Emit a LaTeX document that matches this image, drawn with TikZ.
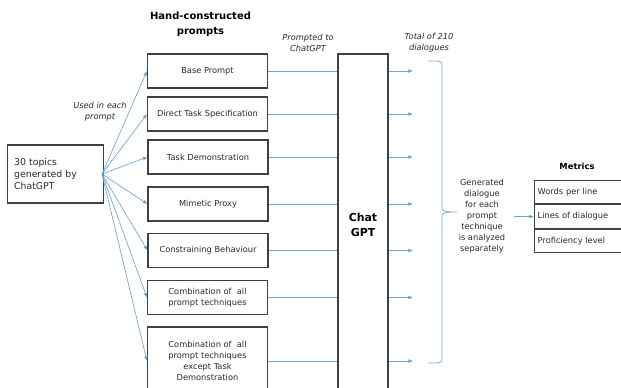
\documentclass[tikz,border=0pt]{standalone}
\usepackage{fontspec}
\setmainfont{DejaVu Sans}
\usetikzlibrary{arrows.meta}
\definecolor{lnblue}{RGB}{110,165,220}
\definecolor{tipblue}{RGB}{70,135,205}
\definecolor{bordergrey}{RGB}{64,64,64}
\definecolor{txtgrey}{RGB}{40,40,40}
\tikzset{
  small/.style={font=\fontsize{6.2}{8.25}\selectfont, text=txtgrey},
  promptbox/.style={draw=bordergrey, line width=0.8pt, minimum width=90pt, minimum height=25.5pt,
     inner sep=1pt, align=center, small},
  conn/.style={draw=lnblue, line width=0.5pt},
  arr/.style={conn, -{Latex[length=3.4pt,width=2.8pt,fill=tipblue]}},
  note/.style={font=\fontsize{6.2}{8.25}\selectfont\itshape, text=txtgrey, align=center, inner sep=0pt},
  metricrow/.style={draw=bordergrey, line width=0.8pt, anchor=north west, minimum height=17.5pt,
     text width=62pt, inner xsep=2.4pt, inner ysep=0pt, align=left, small},
}
\begin{document}
\begin{tikzpicture}[x=0.75pt,y=-0.75pt]
\useasboundingbox (0,0) rectangle (621,387);
\clip (0,0) rectangle (621,387);

% titles and notes
\node[font=\fontsize{7.5}{11.25}\selectfont\bfseries, text=black, align=center, inner sep=0pt] (title) at (200.5,24.5) {Hand-constructed\\prompts};
\node[note] (used) at (100,111.5) {Used in each\\prompt};
\node[note] (prompted) at (308,43) {Prompted to\\ChatGPT};
\node[note] (total) at (429,42.5) {Total of 210\\dialogues};

% left box
\node[draw=bordergrey, line width=0.8pt, minimum width=69.75pt, minimum height=43.5pt, text width=62pt,
  align=left, inner xsep=4.8pt, inner ysep=0pt, font=\fontsize{7}{9}\selectfont, text=txtgrey] (topics) at (55.5,174)
  {30 topics\\generated by\\ChatGPT};

% prompt boxes
\node[promptbox] (p1) at (207.5,71) {Base Prompt};
\node[promptbox] (p2) at (207.5,114) {Direct Task Specification};
\node[promptbox] (p3) at (208,157) {Task Demonstration};
\node[promptbox] (p4) at (208,204) {Mimetic Proxy};
\node[promptbox] (p5) at (208,250.5) {Constraining Behaviour};
\node[promptbox] (p6) at (207.5,297.5) {Combination of\ \ all\\prompt techniques};
\node[promptbox, minimum height=51pt] (p7) at (207.5,361) {Combination of\ \ all\\prompt techniques\\except Task\\Demonstration};

% ChatGPT box
\node[draw=bordergrey, line width=0.8pt, minimum width=37.5pt, minimum height=255.75pt, inner sep=0pt,
  font=\fontsize{8.2}{11.25}\selectfont\bfseries, text=black, align=center] (gpt) at (363,224.5) {Chat\\GPT};

% fan from topics
\coordinate (src) at (102,174);
\foreach \i in {1,...,7} {
  \draw[arr] (src) -- (p\i.west);
}

% lines to ChatGPT and outputs
\foreach \i/\yy in {1/71,2/114,3/157,4/204,5/250.5,6/297.5,7/361} {
  \coordinate (d\i) at (413,\yy);
  \draw[conn] (p\i.east) -- (p\i.east -| gpt.west);
  \draw[arr] (p\i.east -| gpt.east) -- (d\i);
}

% brace
\coordinate (bt) at (428,61);
\coordinate (bb) at (428,363);
\coordinate (btip) at (457,212);
\draw[conn] (bt) .. controls (442,61) and (442,61) .. (442,66) -- (442,208)
   .. controls (442,211) and (444,212) .. (btip)
   .. controls (444,212) and (442,213) .. (442,216) -- (442,358)
   .. controls (442,363) and (442,363) .. (bb);

% generated text
\node[small, align=center, inner xsep=6pt, inner ysep=0pt] (gen) at (482,216)
  {Generated\\dialogue\\for each\\prompt\\technique\\is analyzed\\separately};

% metrics
\node[font=\fontsize{6.3}{8}\selectfont\bfseries, text=black, inner sep=0pt] (mtitle) at (577,166) {Metrics};
\node[metricrow] (m1) at (534,180) {Words per line};
\node[metricrow] (m2) at (m1.south west) {Lines of dialogue};
\node[metricrow] (m3) at (m2.south west) {Proficiency level};

\draw[arr] (gen.east |- m2.west) -- (m2.west);
\end{tikzpicture}
\end{document}
